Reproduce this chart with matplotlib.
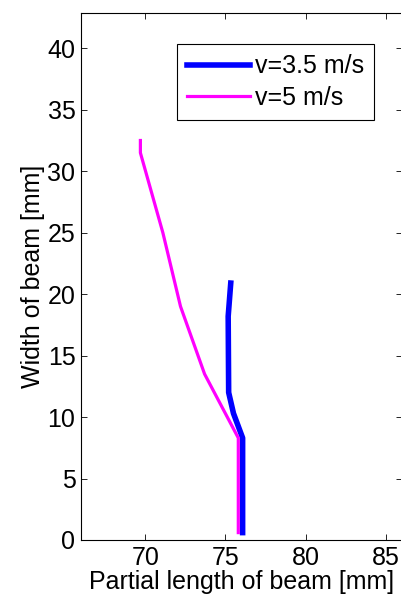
import matplotlib
matplotlib.use("Agg")
import matplotlib.pyplot as plt

plt.rcParams['font.family'] = ['Liberation Sans', 'DejaVu Sans']

# v=3.5 m/s
x_35 = [76.07, 76.07, 75.5, 75.2, 75.17, 75.33]
y_35 = [0.6, 8.3, 10.3, 12.0, 18.2, 20.9]

# v=5 m/s
x_5 = [75.8, 75.8, 73.7, 72.2, 71.1, 69.7, 69.7]
y_5 = [0.6, 8.3, 13.5, 19.0, 25.0, 31.5, 32.5]

xticks = [70, 75, 80, 85]
yticks = [0, 5, 10, 15, 20, 25, 30, 35, 40]

fig = plt.figure(figsize=(4.01, 6.03), dpi=100)
ax = fig.add_axes([0.202, 0.1045, 0.8005, 0.8735])

ax.plot(x_35, y_35, color='#0000ff', lw=4.0, label='v=3.5 m/s', solid_joinstyle='bevel')
ax.plot(x_5, y_5, color='#ff00ff', lw=2.3, label='v=5 m/s', solid_joinstyle='bevel')

ax.set_xlim(66, 86)
ax.set_ylim(0, 42.85)
ax.set_xticks(xticks)
ax.set_yticks(yticks)
ax.tick_params(direction='in', top=True, right=True, labelsize=18, length=4, width=0.6, pad=4)
for s in ax.spines.values():
    s.set_linewidth(0.8)

ax.set_xlabel('Partial length of beam [mm]', fontsize=18, labelpad=0)
ax.set_ylabel('Width of beam [mm]', fontsize=18, labelpad=2)

leg = ax.legend(loc='upper right', bbox_to_anchor=(0.913, 0.941), fontsize=18,
                fancybox=False, edgecolor='black', framealpha=1,
                handlelength=2.5, borderpad=0.4, labelspacing=0.3, handletextpad=0.2,
                borderaxespad=0)
leg.get_frame().set_linewidth(0.8)

fig.savefig('out.png', dpi=100)
